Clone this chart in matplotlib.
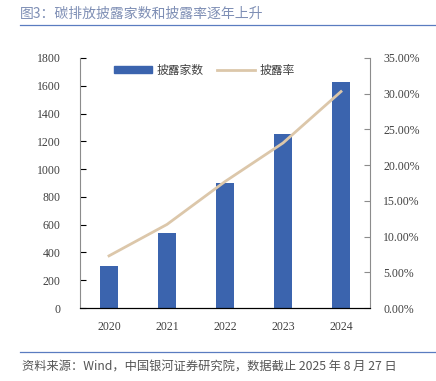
import matplotlib.pyplot as plt
from matplotlib.lines import Line2D
from matplotlib.ticker import FuncFormatter, MultipleLocator

years = ["2020", "2021", "2022", "2023", "2024"]
disclosed_count = [300, 540, 900, 1250, 1625]
disclosure_rate = [7.3, 11.7, 17.7, 23.1, 30.3]

BAR_COLOR = "#3b64ae"
LINE_COLOR = "#dcc7aa"
SPINE_GREY = "#8c8c8c"

plt.rcParams["font.family"] = ["Liberation Serif", "Noto Sans CJK SC", "DejaVu Sans"]
plt.rcParams["font.size"] = 8.5

fig = plt.figure(figsize=(4.36, 3.81), dpi=100, facecolor="white")
ax = fig.add_axes([0.1835, 0.1916, 0.6651, 0.6562])
ax2 = ax.twinx()

x = list(range(len(years)))
ax.bar(x, disclosed_count, width=0.32, color=BAR_COLOR, label="披露家数", zorder=2)
ax2.plot(x, disclosure_rate, color=LINE_COLOR, lw=2, label="披露率", zorder=3)

ax.set_xlim(-0.5, 4.5)
ax.set_ylim(0, 1800)
ax.yaxis.set_major_locator(MultipleLocator(200))
ax2.set_ylim(0, 35)
ax2.yaxis.set_major_locator(MultipleLocator(5))
ax2.yaxis.set_major_formatter(FuncFormatter(lambda v, p: f"{v:.2f}%"))

ax.set_xticks(x)
ax.set_xticklabels(years)

for a in (ax, ax2):
    a.spines["top"].set_visible(False)
    a.spines["left"].set_color(SPINE_GREY)
    a.spines["right"].set_color(SPINE_GREY)
    a.spines["bottom"].set_color("black")
    a.tick_params(colors="#404040", labelsize=8.5)

ax.tick_params(axis="y", direction="in", length=4, color="black", pad=14)
ax2.tick_params(axis="y", direction="in", length=4, color=SPINE_GREY, pad=9.5)
ax.tick_params(axis="x", length=0, pad=9)
ax2.spines["left"].set_visible(False)
ax.spines["right"].set_visible(False)

handles = [
    plt.Rectangle((0, 0), 1, 1, color=BAR_COLOR),
    Line2D([0], [0], color=LINE_COLOR, lw=2),
]
leg = ax.legend(handles, ["披露家数", "披露率"], loc="upper left",
                bbox_to_anchor=(0.08, 1.02), ncol=2, frameon=False,
                handlelength=3.2, handleheight=0.6, columnspacing=1.2,
                handletextpad=0.4, prop={"family": ["Noto Sans CJK SC"], "size": 8.5})
for t in leg.get_texts():
    t.set_color("#404040")

# header and footer
fig.text(0.046, 0.965, "图3：碳排放披露家数和披露率逐年上升", color="#7f8fb5",
         fontsize=10, family=["Noto Sans CJK SC"], va="center", ha="left")
fig.add_artist(Line2D([0.046, 1.0], [0.934, 0.934], color="#5a7cc0", lw=0.9))
fig.add_artist(Line2D([0.046, 1.0], [0.076, 0.076], color="#5a7cc0", lw=0.9))
fig.text(0.05, 0.037, "资料来源：Wind，中国银河证券研究院，数据截止 2025 年 8 月 27 日",
         color="#555555", fontsize=8.8, style="italic",
         family=["Noto Sans CJK SC"], va="center", ha="left")

fig.savefig("out.png", dpi=100, facecolor="white")
